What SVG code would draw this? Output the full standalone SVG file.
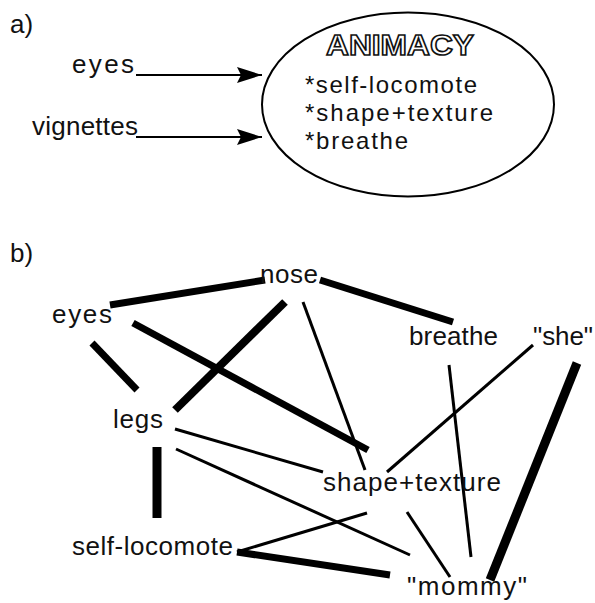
<svg xmlns="http://www.w3.org/2000/svg" width="595" height="603" viewBox="0 0 595 603">
<style>
text { font-family: "Liberation Sans", Arial, sans-serif; font-size: 26px; fill: #111; }
.list { font-size: 24px; }
.title { font-weight: bold; font-size: 30px; fill: #fff; stroke: #111; stroke-width: 1.6; }
.arrow { stroke: #000; stroke-width: 2; fill: none; marker-end: url(#ah); }
.thick { stroke: #000; stroke-width: 7; stroke-linecap: butt; }
.thin { stroke: #000; stroke-width: 3; stroke-linecap: butt; }
</style>
<defs>
<marker id="ah" markerUnits="userSpaceOnUse" markerWidth="26" markerHeight="18" refX="25" refY="9" orient="auto">
<path d="M0,1 L25,9 L0,17 L4,9 Z" fill="#000"/>
</marker>
</defs>
<rect width="595" height="603" fill="#fff"/>

<!-- part a -->
<text x="10" y="33">a)</text>
<g id="a-eyes"><text x="72" y="73" textLength="62" lengthAdjust="spacing">eyes</text></g>
<g id="a-vignettes"><text x="32" y="135" textLength="106" lengthAdjust="spacing">vignettes</text></g>
<g id="animacy">
<ellipse cx="408" cy="104.5" rx="146" ry="92" fill="none" stroke="#000" stroke-width="2"/>
<text class="title" x="326" y="55" textLength="148" lengthAdjust="spacingAndGlyphs">ANIMACY</text>
<text class="list" x="305" y="93" textLength="172" lengthAdjust="spacing">*self-locomote</text>
<text class="list" x="305" y="121" textLength="188" lengthAdjust="spacing">*shape+texture</text>
<text class="list" x="305" y="149" textLength="103" lengthAdjust="spacing">*breathe</text>
</g>
<g id="a-connectors">
<line class="arrow" x1="136" y1="75" x2="262" y2="75"/>
<line class="arrow" x1="136" y1="137" x2="262" y2="137"/>
</g>

<!-- part b -->
<text x="10" y="262">b)</text>
<g id="b-connectors">
<line class="thick" x1="110" y1="305" x2="265" y2="280"/>
<line class="thick" x1="320" y1="280" x2="453" y2="322"/>
<line class="thick" x1="92" y1="343" x2="137" y2="390"/>
<line class="thick" x1="285" y1="302" x2="175" y2="410" style="stroke-width:8"/>
<line class="thick" x1="133" y1="323" x2="368" y2="450"/>
<line class="thin" x1="303" y1="302" x2="365" y2="470"/>
<line class="thin" x1="449" y1="365" x2="471" y2="557"/>
<line class="thin" x1="533" y1="345" x2="387" y2="472"/>
<line class="thick" x1="577" y1="363" x2="490" y2="580" style="stroke-width:9"/>
<line class="thin" x1="175" y1="429" x2="323" y2="472"/>
<line class="thin" x1="176" y1="449" x2="410" y2="555"/>
<line class="thick" x1="157" y1="447" x2="157" y2="518" style="stroke-width:9"/>
<line class="thin" x1="237" y1="552" x2="367" y2="513"/>
<line class="thick" x1="237" y1="552" x2="390" y2="575"/>
<line class="thin" x1="407" y1="512" x2="450" y2="577"/>
</g>
<g id="nose"><text x="260" y="283" textLength="58" lengthAdjust="spacing">nose</text></g>
<g id="eyes"><text x="52" y="323" textLength="60" lengthAdjust="spacing">eyes</text></g>
<g id="breathe"><text x="409" y="345" textLength="89" lengthAdjust="spacing">breathe</text></g>
<g id="she"><text x="533" y="345" textLength="60" lengthAdjust="spacing">"she"</text></g>
<g id="legs"><text x="113" y="428" textLength="50" lengthAdjust="spacing">legs</text></g>
<g id="shape-texture"><text x="323" y="491" textLength="178" lengthAdjust="spacing">shape+texture</text></g>
<g id="self-locomote"><text x="72" y="555" textLength="161" lengthAdjust="spacing">self-locomote</text></g>
<g id="mommy"><text x="407" y="595" textLength="120" lengthAdjust="spacing">"mommy"</text></g>
</svg>
